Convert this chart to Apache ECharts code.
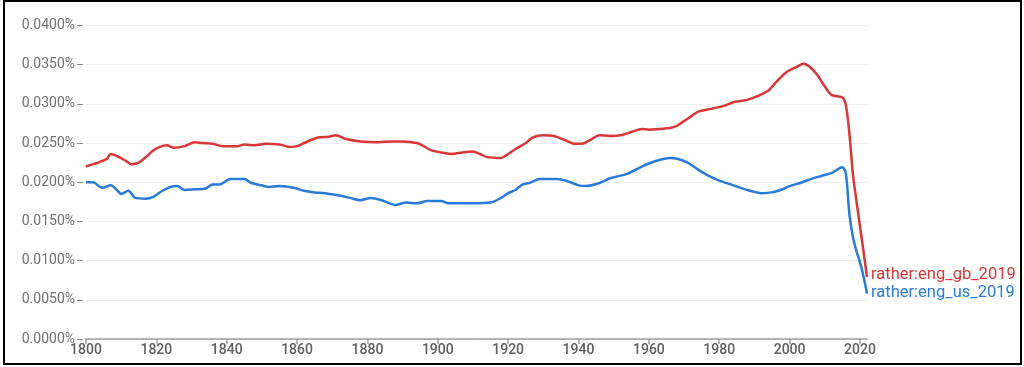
<!DOCTYPE html>
<html>
<head>
<meta charset="utf-8">
<script src="https://cdn.jsdelivr.net/npm/echarts@6/dist/echarts.min.js"></script>
<style>
  html, body { margin: 0; padding: 0; background: #fff; }
  #chart { position: absolute; left: 0; top: 0; width: 1024px; height: 367px; }
  #frame { position: absolute; left: 3px; top: 0px; width: 1019px; height: 365px; border: 2px solid #000; box-sizing: border-box; pointer-events: none; }
</style>
</head>
<body>
<div id="chart"></div>
<div id="frame"></div>
<script>
const gbName = 'rather:eng_gb_2019';
const usName = 'rather:eng_us_2019';

const gbYears = [1800,1802,1804,1806,1807,1809,1811,1813,1815,1817,1819,1821,1823,1825,1828,1831,1833,1836,1839,1843,1845,1848,1851,1855,1858,1860,1862,1866,1869,1871,1874,1878,1883,1887,1890,1894,1896,1898,1901,1904,1907,1910,1912,1914,1918,1920,1922,1925,1927,1930,1933,1936,1939,1941,1943,1946,1949,1952,1955,1958,1960,1963,1966,1968,1970,1972,1974,1977,1981,1984,1988,1991,1994,1996,1999,2002,2004,2006,2008,2010,2012,2015,2016,2017,2018,2019,2020,2021,2022];
const gbValues = [0.0220,0.0223,0.0226,0.0230,0.0236,0.0233,0.0228,0.0223,0.0225,0.0232,0.0240,0.0245,0.0247,0.0244,0.0246,0.0251,0.0250,0.0249,0.0246,0.0246,0.0248,0.0247,0.0249,0.0248,0.0245,0.0246,0.0250,0.0257,0.0258,0.0260,0.0255,0.0252,0.0251,0.0252,0.0252,0.0250,0.0246,0.0241,0.0238,0.0236,0.0238,0.0239,0.0236,0.0232,0.0231,0.0236,0.0242,0.0250,0.0257,0.0260,0.0259,0.0254,0.0249,0.0249,0.0253,0.0260,0.0259,0.0260,0.0264,0.0268,0.0267,0.0268,0.0269,0.0272,0.0278,0.0284,0.0290,0.0293,0.0297,0.0302,0.0305,0.0310,0.0317,0.0327,0.0340,0.0347,0.0351,0.0346,0.0336,0.0322,0.0311,0.0308,0.0298,0.0262,0.0210,0.0176,0.0144,0.0112,0.0079];

const usYears = [1800,1802,1804,1805,1807,1809,1810,1812,1814,1817,1819,1821,1824,1826,1828,1831,1834,1836,1838,1841,1845,1847,1850,1852,1855,1859,1862,1865,1868,1872,1875,1878,1881,1884,1888,1891,1894,1897,1901,1903,1906,1910,1915,1918,1920,1922,1924,1926,1929,1932,1934,1937,1940,1942,1946,1949,1954,1958,1962,1966,1968,1971,1974,1977,1980,1984,1988,1992,1995,1998,2000,2003,2006,2009,2012,2015,2016,2017,2018,2019,2020,2021,2022];
const usValues = [0.0200,0.0200,0.0194,0.0193,0.0196,0.0189,0.0185,0.0189,0.0180,0.0179,0.0181,0.0187,0.0194,0.0195,0.0190,0.0191,0.0192,0.0197,0.0197,0.0204,0.0204,0.0199,0.0196,0.0194,0.0195,0.0193,0.0189,0.0187,0.0186,0.0183,0.0180,0.0177,0.0180,0.0177,0.0171,0.0174,0.0173,0.0176,0.0176,0.0173,0.0173,0.0173,0.0174,0.0180,0.0186,0.0190,0.0197,0.0199,0.0204,0.0204,0.0204,0.0201,0.0196,0.0195,0.0199,0.0205,0.0211,0.0220,0.0227,0.0231,0.0230,0.0225,0.0216,0.0208,0.0202,0.0196,0.0190,0.0186,0.0187,0.0191,0.0195,0.0199,0.0204,0.0208,0.0212,0.0219,0.0211,0.0159,0.0130,0.0112,0.0098,0.0080,0.0058];

const xTicks = [1800,1820,1840,1860,1880,1900,1920,1940,1960,1980,2000,2020];

const gbColor = '#d93636';
const usColor = '#2a7bd9';

const chart = echarts.init(document.getElementById('chart'), null, { renderer: 'canvas' });
chart.setOption({
  animation: false,
  textStyle: { fontFamily: 'Roboto' },
  grid: { left: 86, right: 157, top: 25.4, bottom: 28, containLabel: false },
  xAxis: {
    type: 'value', min: 1800, max: 2022,
    axisLine: { show: true, lineStyle: { color: '#9e9e9e', width: 1.5 } },
    axisTick: { show: true, customValues: xTicks, length: 5, lineStyle: { color: '#9e9e9e', width: 1.5 } },
    axisLabel: { customValues: xTicks, color: '#5f5f5f', fontSize: 14, fontWeight: 500, margin: 4, formatter: v => String(v) },
    splitLine: { show: false }
  },
  yAxis: {
    type: 'value', min: 0, max: 0.04, interval: 0.005, offset: 3,
    axisLine: { show: false },
    axisTick: { show: true, length: 6, lineStyle: { color: '#8a8a8a', width: 1 } },
    axisLabel: { color: '#707070', fontSize: 14, margin: 8, formatter: v => v.toFixed(4) + '%' },
    splitLine: { show: true, lineStyle: { color: '#efefef', width: 1 } }
  },
  series: [
    {
      name: gbName, type: 'line', showSymbol: false, smooth: 0.3,
      data: gbYears.map((y, i) => [y, gbValues[i]]),
      lineStyle: { color: gbColor, width: 2.5 }, itemStyle: { color: gbColor },
      endLabel: { show: true, formatter: gbName, color: gbColor, fontSize: 16.5, distance: 4, offset: [0, -2] }
    },
    {
      name: usName, type: 'line', showSymbol: false, smooth: 0.3,
      data: usYears.map((y, i) => [y, usValues[i]]),
      lineStyle: { color: usColor, width: 2.5 }, itemStyle: { color: usColor },
      endLabel: { show: true, formatter: usName, color: usColor, fontSize: 16.5, distance: 4, offset: [0, -1] }
    }
  ]
});
</script>
</body>
</html>
